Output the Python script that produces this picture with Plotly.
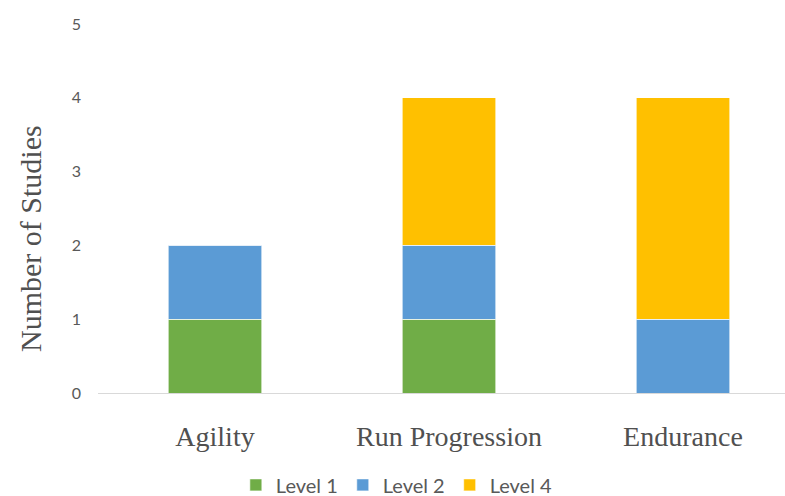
import plotly.graph_objects as go

categories = ["Agility", "Run Progression", "Endurance"]
level1 = [1, 1, 0]
level2 = [1, 1, 1]
level4 = [0, 2, 3]
series_names = ["Level 1", "Level 2", "Level 4"]
colors = ["#70AD47", "#5B9BD5", "#FFC000"]
y_ticks = [0, 1, 2, 3, 4, 5]
y_title = "Number of Studies"

fig = go.Figure()
for name, vals, col in zip(series_names, [level1, level2, level4], colors):
    fig.add_trace(go.Bar(
        x=categories, y=vals, name=name,
        marker=dict(color=col, line=dict(color="rgba(255,255,255,0.6)", width=1)),
        width=0.40,
    ))

fig.add_annotation(
    text=y_title, textangle=-90, xref="paper", yref="paper",
    x=-0.099, y=0.42, xanchor="center", yanchor="middle", showarrow=False,
    font=dict(family="Liberation Serif", size=30, color="#505050"),
)

fig.update_layout(
    barmode="stack",
    width=785, height=496,
    margin=dict(l=98, r=0, t=24, b=103, autoexpand=False),
    paper_bgcolor="white", plot_bgcolor="white",
    showlegend=True,
    legend=dict(orientation="h", x=0.435, xanchor="center", y=-0.249, yanchor="middle",
                font=dict(family="Lato", size=20, color="#595959"),
                itemwidth=30, traceorder="normal"),
    xaxis=dict(range=[-0.5, 2.436], showgrid=False, showline=True, linecolor="#D9D9D9",
               linewidth=1, ticks="", ticklabelstandoff=18, automargin=False,
               tickfont=dict(family="Liberation Serif", size=28, color="#505050"),
               zeroline=False),
    yaxis=dict(range=[0, 5], tickvals=y_ticks, showgrid=False, showline=False, zeroline=False,
               ticks="", ticklabelstandoff=16, automargin=False,
               tickfont=dict(family="Lato", size=16, color="#595959")),
)

fig.write_html("out.html")
